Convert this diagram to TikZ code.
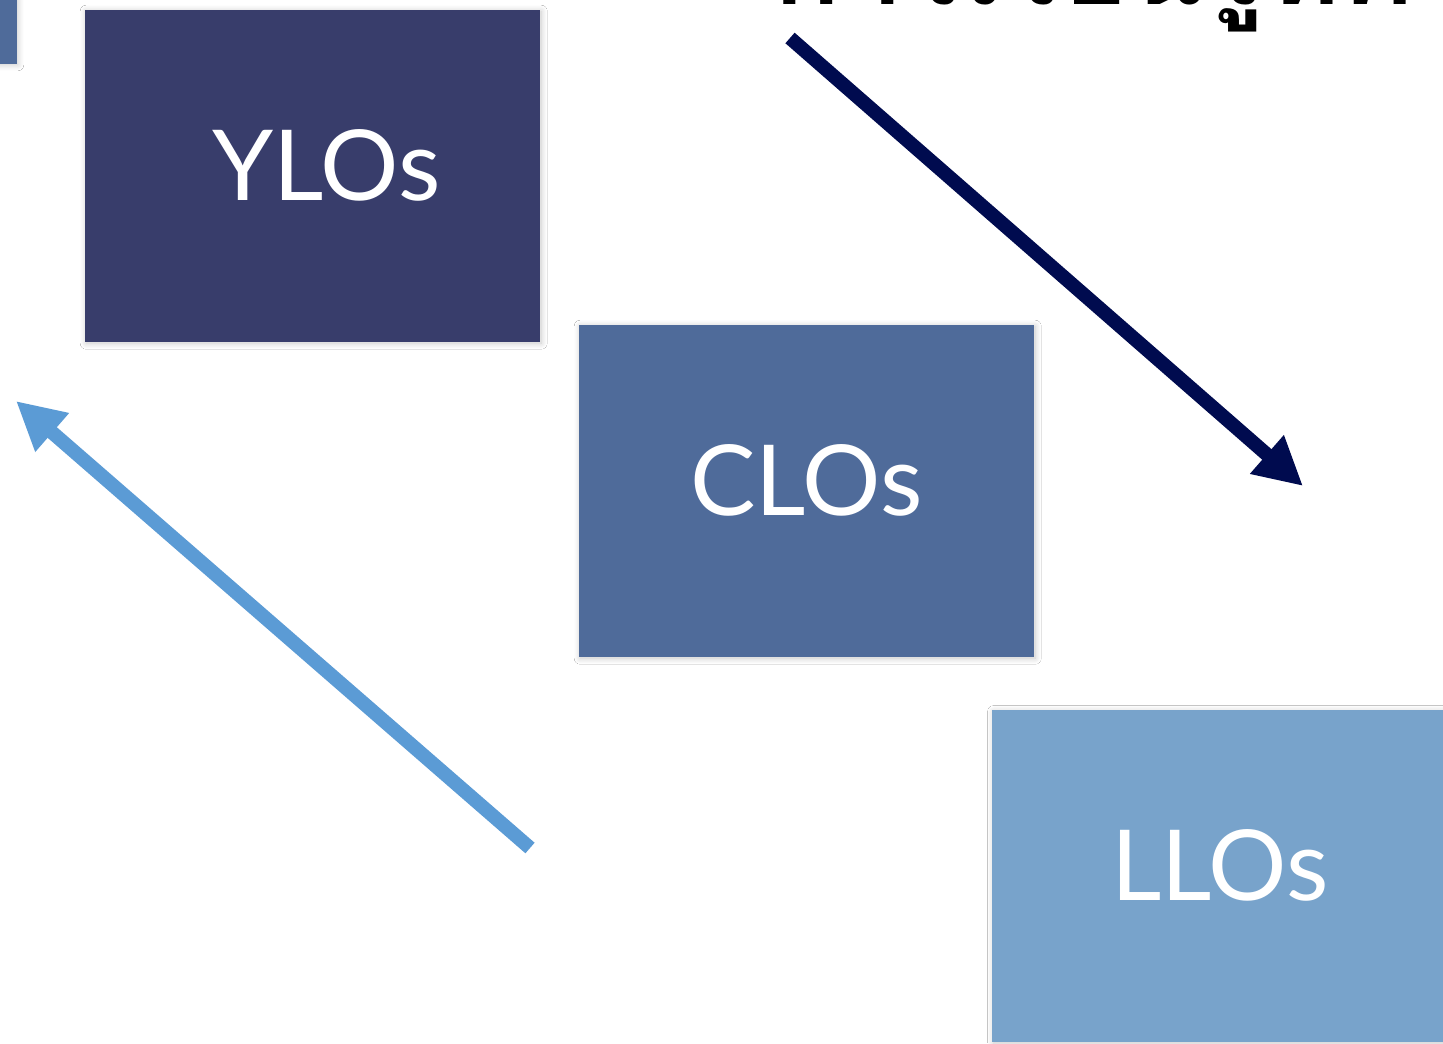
\documentclass[tikz,border=0pt]{standalone}
\usepackage{fontspec}
\setmainfont{Lato}
\newfontfamily\thaifont[Script=Thai]{Loma}
\usetikzlibrary{arrows.meta,shadows.blur}
\definecolor{ylo}{HTML}{383D6B}
\definecolor{clo}{HTML}{4F6B9A}
\definecolor{llo}{HTML}{78A3CB}
\definecolor{navyarrow}{HTML}{000B4F}
\definecolor{bluearrow}{HTML}{5B9BD5}
\tikzset{
  lobox/.style={rectangle, inner sep=0pt, minimum width=227.5pt, minimum height=166pt,
    text=white, font=\fontsize{49}{58}\selectfont, text depth=11pt,
    blur shadow={shadow xshift=0.6pt, shadow yshift=-0.6pt, shadow blur radius=3pt, shadow blur steps=12, shadow opacity=22}},
  bigarrow/.style={line width=7pt, -{Triangle[length=24pt,width=24pt]}},
  thaititle/.style={inner sep=0pt, font=\thaifont\bfseries\fontsize{56}{62}\selectfont}
}
\begin{document}
\begin{tikzpicture}[x=0.5pt,y=-0.5pt]
\useasboundingbox (0,0) rectangle (1443,1043);
\fill[white] (0,0) rectangle (1443,1043);
% partial box at top-left
\node[lobox, fill=clo, anchor=south east, text depth=0pt] (prev) at (17,64) {};
% main boxes
\node[lobox, fill=ylo] (ylos) at (312.5,176) {\hspace{14pt}YLOs};
\node[lobox, fill=clo] (clos) at (806.5,491) {CLOs};
\node[lobox, fill=llo, anchor=north west] (llos) at (992,710) {LLOs};
% title (mostly outside the picture)
\node[thaititle, anchor=base east] (title1) at (1266,5) {การเรียนรู้};
\node[thaititle, anchor=base west] (title2) at (title1.base east) {ที่คาดหวัง};
% arrows
\coordinate (nstart) at (790,38);
\coordinate (nend) at (1303,486);
\coordinate (bstart) at (530,848);
\coordinate (bend) at (16,401);
\draw[bigarrow, navyarrow] (nstart) -- (nend);
\draw[bigarrow, bluearrow] (bstart) -- (bend);
\end{tikzpicture}
\end{document}
